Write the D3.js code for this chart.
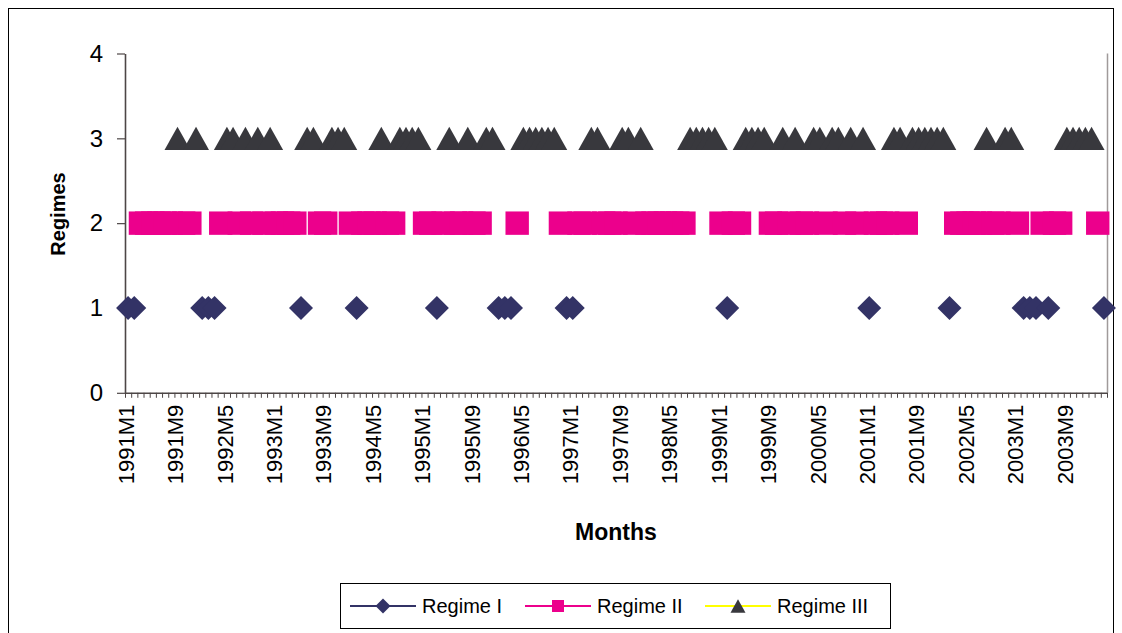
<!DOCTYPE html>
<html>
<head>
<meta charset="utf-8">
<script src="https://cdn.jsdelivr.net/npm/d3@7"></script>
<style>
  html, body { margin: 0; padding: 0; background: #ffffff; }
  svg { display: block; font-family: "Liberation Sans", Arial, sans-serif; }
</style>
</head>
<body>
<svg id="chart" width="1122" height="633"></svg>
<script>
// Monthly categories, 1991M1 .. 2004M3
const firstYear = 1991;
const monthCount = 159;
const months = d3.range(monthCount).map(i => `${firstYear + Math.floor(i / 12)}M${(i % 12) + 1}`);

// Regime classification for each month (1 = Regime I, 2 = Regime II, 3 = Regime III)
const regimeByMonth = [
  1, 1, 2, 2, 2, 2, 2, 2, 3, 2, 2, 3, 1, 1, 1, 2, 3, 3, 2, 3,
  2, 3, 2, 3, 2, 2, 2, 2, 1, 3, 3, 2, 2, 3, 3, 3, 2, 1, 2, 2,
  2, 3, 2, 2, 3, 3, 3, 3, 2, 2, 1, 2, 3, 2, 2, 3, 2, 2, 3, 3,
  1, 1, 1, 2, 3, 3, 3, 3, 3, 3, 2, 1, 1, 2, 2, 3, 3, 2, 2, 2,
  3, 3, 2, 3, 2, 2, 2, 2, 2, 2, 2, 3, 3, 3, 3, 3, 2, 1, 2, 2,
  3, 3, 3, 3, 2, 2, 3, 2, 3, 2, 2, 3, 3, 2, 3, 3, 2, 3, 2, 3,
  1, 2, 2, 2, 3, 3, 2, 3, 3, 3, 3, 3, 3, 1, 2, 2, 2, 2, 2, 3,
  2, 2, 3, 3, 2, 1, 1, 1, 2, 1, 2, 2, 3, 3, 3, 3, 3, 2, 1
];

// Axis tick values
const yTickValues = [0, 1, 2, 3, 4];
const xTickLabels = months.filter((d, i) => i % 8 === 0);

// Series
const seriesNames = ["Regime I", "Regime II", "Regime III"];
const seriesLevels = [1, 2, 3];
const seriesLineColors = ["#333366", "#ec008c", "#ffff00"];
const seriesMarkerColors = ["#333366", "#ec008c", "#38383d"];

// Marker shapes sized by half-extent (size = half width in px)
const diamondShape = {
  draw(ctx, size) {
    const r = size;
    ctx.moveTo(0, -r); ctx.lineTo(r, 0); ctx.lineTo(0, r); ctx.lineTo(-r, 0); ctx.closePath();
  }
};
const squareShape = {
  draw(ctx, size) {
    const r = size;
    ctx.rect(-r, -r, 2 * r, 2 * r);
  }
};
const triangleShape = {
  draw(ctx, size) {
    const w = size, h = size * 0.9;
    ctx.moveTo(0, -h); ctx.lineTo(w, h); ctx.lineTo(-w, h); ctx.closePath();
  }
};
const seriesSymbols = [diamondShape, squareShape, triangleShape];
const plotMarkerSizes = [12, 11.7, 13];
const legendMarkerSizes = [7.5, 6, 7.5];

const svg = d3.select("#chart");

// Chart area frame
svg.append("rect")
  .attr("x", 8.5).attr("y", 8.5)
  .attr("width", 1105).attr("height", 640)
  .attr("fill", "#ffffff").attr("stroke", "#000000").attr("stroke-width", 1);

const plot = { left: 125, right: 1107, top: 53.5, bottom: 392.8 };

const x = d3.scaleBand().domain(months).range([plot.left, plot.right]).paddingInner(0).paddingOuter(0);
const xEdge = d3.scaleLinear().domain([0, monthCount]).range([plot.left, plot.right]);
const y = d3.scaleLinear().domain([0, 4]).range([plot.bottom, plot.top]);
const cx = m => x(m) + x.bandwidth() / 2;

// Plot area right edge
svg.append("line")
  .attr("x1", plot.right + 0.5).attr("x2", plot.right + 0.5)
  .attr("y1", plot.top).attr("y2", plot.bottom)
  .attr("stroke", "#a09a9a").attr("stroke-width", 1.5);

// Y axis
const yAxis = svg.append("g")
  .attr("transform", `translate(${plot.left},0)`)
  .call(d3.axisLeft(y).tickValues(yTickValues).tickSize(8).tickSizeOuter(0).tickPadding(14).tickFormat(d3.format("d")));
yAxis.select(".domain").attr("stroke", "#4d4646").attr("stroke-width", 1.6);
yAxis.selectAll(".tick line").attr("stroke", "#4d4646").attr("stroke-width", 1.2);
yAxis.selectAll(".tick text")
  .attr("fill", "#000").style("font-size", "24px")
  .style("font-family", "'Liberation Sans', Arial, sans-serif");

// X axis: a tick between every pair of months
const xTicks = svg.append("g")
  .attr("transform", `translate(0,${plot.bottom})`)
  .call(d3.axisBottom(xEdge).tickValues(d3.range(monthCount + 1)).tickSize(5).tickSizeOuter(0).tickFormat(""));
xTicks.select(".domain").attr("stroke", "#4d4646").attr("stroke-width", 1.4);
xTicks.selectAll(".tick line").attr("stroke", "#4d4646").attr("stroke-width", 1);

// X axis labels every eighth month
const xLabels = svg.append("g")
  .attr("transform", `translate(0,${plot.bottom})`)
  .call(d3.axisBottom(x).tickValues(xTickLabels).tickSize(0).tickPadding(0));
xLabels.select(".domain").remove();
xLabels.selectAll(".tick text")
  .attr("transform", "translate(-2,12) rotate(-90)")
  .attr("text-anchor", "end")
  .attr("x", 0).attr("y", 0).attr("dy", "0.35em")
  .attr("fill", "#000").style("font-size", "22px")
  .style("font-family", "'Liberation Sans', Arial, sans-serif");

// Axis titles
svg.append("text")
  .attr("transform", "translate(65,214) rotate(-90)")
  .attr("text-anchor", "middle")
  .style("font-size", "20px").style("font-weight", "bold")
  .text("Regimes");
svg.append("text")
  .attr("x", 616).attr("y", 540)
  .attr("text-anchor", "middle")
  .style("font-size", "23px").style("font-weight", "bold")
  .text("Months");

// Series lines (gaps where a month is in another regime), then markers
seriesLevels.forEach((level, k) => {
  const values = regimeByMonth.map(r => (r === level ? level : null));
  const line = d3.line()
    .defined(d => d.v !== null)
    .x(d => cx(d.m))
    .y(d => y(d.v));
  const pts = months.map((m, i) => ({ m, v: values[i] }));
  svg.append("path")
    .datum(pts)
    .attr("fill", "none")
    .attr("stroke", seriesLineColors[k])
    .attr("stroke-width", 2)
    .attr("d", line);
  svg.append("g")
    .selectAll("path")
    .data(pts.filter(d => d.v !== null))
    .join("path")
    .attr("transform", d => `translate(${cx(d.m)},${y(d.v)})`)
    .attr("d", d3.symbol(seriesSymbols[k], plotMarkerSizes[k]))
    .attr("fill", seriesMarkerColors[k]);
});

// Legend
const legend = svg.append("g");
legend.append("rect")
  .attr("x", 340.5).attr("y", 583.5).attr("width", 550).attr("height", 45)
  .attr("fill", "#ffffff").attr("stroke", "#000000").attr("stroke-width", 1);
const legendX = [350, 525, 705];
seriesNames.forEach((name, k) => {
  const g = legend.append("g").attr("transform", `translate(${legendX[k]},606)`);
  g.append("line").attr("x1", 0).attr("x2", 66).attr("y1", 0).attr("y2", 0)
    .attr("stroke", seriesLineColors[k]).attr("stroke-width", 2);
  g.append("path").attr("transform", "translate(33,0)")
    .attr("d", d3.symbol(seriesSymbols[k], legendMarkerSizes[k]))
    .attr("fill", seriesMarkerColors[k]);
  g.append("text").attr("x", 72).attr("y", 0).attr("dy", "0.35em")
    .style("font-size", "20px").text(name);
});
</script>
</body>
</html>
